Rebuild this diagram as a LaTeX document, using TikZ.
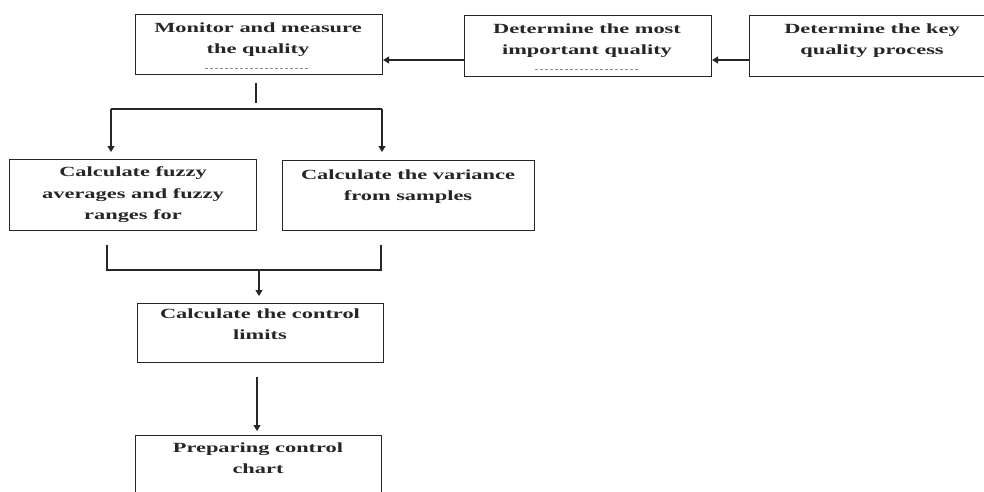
\documentclass[tikz,border=0pt]{standalone}
\usepackage{fontspec}
\setmainfont{Liberation Serif}[FakeStretch=1.6]
\usetikzlibrary{arrows.meta}
\tikzset{
  flowbox/.style={draw=black!85, line width=1.1pt, rectangle, inner sep=0pt, anchor=north west},
  flowtext/.style={anchor=north, inner sep=0pt, align=center, font=\fontsize{14}{21.5}\selectfont\bfseries, text=black!85},
  garble/.style={draw=black!45, line width=1pt, dash pattern=on 3pt off 2pt},
  conn/.style={draw=black!85, line width=1.1pt},
  arr/.style={conn, -{Triangle[length=6pt,width=7pt]}}
}
\begin{document}
\begin{tikzpicture}[x=1pt,y=-1pt]
\clip (0,0) rectangle (984,491);
\fill[white] (0,0) rectangle (984,491);
% boxes
\node[flowbox, minimum width=247pt, minimum height=60pt] (b1) at (135,14) {};
\node[flowbox, minimum width=247pt, minimum height=61pt] (b2) at (464,15) {};
\node[flowbox, minimum width=246pt, minimum height=61pt] (b3) at (749,15) {};
\node[flowbox, minimum width=247pt, minimum height=71pt] (b4) at (9,159) {};
\node[flowbox, minimum width=252pt, minimum height=70pt] (b5) at (282,160) {};
\node[flowbox, minimum width=246pt, minimum height=59pt] (b6) at (137,303) {};
\node[flowbox, minimum width=246pt, minimum height=80pt] (b7) at (135,435) {};
% texts
\node[flowtext] (t1) at (258,22.5) {Monitor and measure\\the quality};
\node[flowtext] (t2) at (587,23.5) {Determine the most\\important quality};
\node[flowtext] (t3) at (872,23.5) {Determine the key\\quality process};
\node[flowtext] (t4) at (133,166.5) {Calculate fuzzy\\averages and fuzzy\\ranges for};
\node[flowtext] (t5) at (408,169.5) {Calculate the variance\\from samples};
\node[flowtext] (t6) at (260,308.5) {Calculate the control\\limits};
\node[flowtext] (t7) at (258,442.5) {Preparing control\\chart};
% garbled marks under text
\coordinate (g1a) at (205,68); \coordinate (g1b) at (310,68);
\coordinate (g2a) at (535,69); \coordinate (g2b) at (640,69);
\draw[garble] (g1a) -- (g1b);
\draw[garble] (g2a) -- (g2b);
% top row arrows
\draw[arr] (b3.west |- 0,60) -- (b2.east |- 0,60);
\draw[arr] (b2.west |- 0,60) -- (b1.east |- 0,60);
% split from b1
\coordinate (s0) at (256,83);
\coordinate (s1) at (256,103);
\coordinate (sl) at (111,109);
\coordinate (sr) at (382,109);
\draw[conn] (s0) -- (s1);
\draw[conn] (sl) -- (sr);
\draw[arr] (sl) -- (111,152);
\draw[arr] (sr) -- (382,152);
% merge to b6
\coordinate (ml) at (107,245);
\coordinate (mr) at (381,245);
\coordinate (mc) at (259,270);
\draw[conn] (ml) -- (107,270) -- (381,270) -- (mr);
\draw[arr] (mc) -- (259,296);
% b6 to b7
\coordinate (d0) at (257,377);
\draw[arr] (d0) -- (257,431);
\end{tikzpicture}
\end{document}
